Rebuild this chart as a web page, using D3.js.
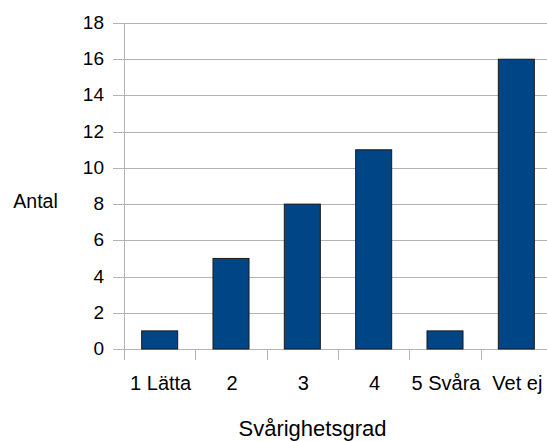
<!DOCTYPE html>
<html>
<head>
<meta charset="utf-8">
<script src="https://cdn.jsdelivr.net/npm/d3@7"></script>
<style>
body { margin: 0; background: #fff; }
text { font-family: "Liberation Sans", Arial, sans-serif; fill: #000; }
</style>
</head>
<body>
<div class="chart"></div>
<script>
// data
var categories = ["1 Lätta", "2", "3", "4", "5 Svåra", "Vet ej"];
var counts = [1, 5, 8, 11, 1, 16];
var yTicks = [0, 2, 4, 6, 8, 10, 12, 14, 16, 18];

var margin = {top: 23, bottom: 92, right: -5, left: 124};
var width = 547 - margin.left - margin.right;
var height = 441 - margin.top - margin.bottom;

var svg = d3.select(".chart")
    .append("svg")
    .attr("width", 547)
    .attr("height", 441)
    .append("g")
    .attr("transform", "translate(" + margin.left + "," + margin.top + ")");

var x = d3.scaleBand()
    .domain(categories)
    .range([0, width])
    .paddingInner(0.495)
    .paddingOuter(0.2475);

var y = d3.scaleLinear()
    .domain([0, 18])
    .range([height, 0]);

// gridlines
svg.selectAll(".grid")
    .data(yTicks)
    .enter().append("line")
    .attr("x1", -11)
    .attr("x2", width)
    .attr("y1", function(d) { return Math.round(y(d)) + 0.5; })
    .attr("y2", function(d) { return Math.round(y(d)) + 0.5; })
    .attr("stroke", "#b3b3b3")
    .attr("stroke-width", 1);

// y axis line
svg.append("line")
    .attr("x1", 0.5).attr("x2", 0.5)
    .attr("y1", 0).attr("y2", height + 11)
    .attr("stroke", "#b3b3b3");

// x category boundary ticks
var step = width / categories.length;
svg.selectAll(".xtick")
    .data(d3.range(1, categories.length + 1))
    .enter().append("line")
    .attr("x1", function(i) { return Math.round(i * step) + 0.5; })
    .attr("x2", function(i) { return Math.round(i * step) + 0.5; })
    .attr("y1", height)
    .attr("y2", height + 11)
    .attr("stroke", "#b3b3b3");

// y tick labels
svg.selectAll(".ylabel")
    .data(yTicks)
    .enter().append("text")
    .attr("x", -20)
    .attr("y", function(d) { return y(d) + 6; })
    .attr("text-anchor", "end")
    .style("font-size", "19px")
    .text(function(d) { return d; });

// bars
svg.selectAll(".bar")
    .data(counts)
    .enter().append("rect")
    .attr("x", function(d, i) { return x(categories[i]); })
    .attr("width", x.bandwidth())
    .attr("y", function(d) { return y(d); })
    .attr("height", function(d) { return height - y(d); })
    .attr("fill", "#004586")
    .attr("stroke", "#1a1a1a")
    .attr("stroke-width", 1);

// x labels
svg.selectAll(".xlabel")
    .data(categories)
    .enter().append("text")
    .attr("x", function(d) { return x(d) + x.bandwidth() / 2 + 1; })
    .attr("y", height + 41)
    .attr("text-anchor", "middle")
    .style("font-size", "20px")
    .text(function(d) { return d; });

// axis titles
svg.append("text")
    .attr("x", 35.5 - margin.left)
    .attr("y", 208 - margin.top)
    .attr("text-anchor", "middle")
    .style("font-size", "19.5px")
    .text("Antal");

svg.append("text")
    .attr("x", 312.5 - margin.left)
    .attr("y", 436 - margin.top)
    .attr("text-anchor", "middle")
    .style("font-size", "22px")
    .text("Svårighetsgrad");
</script>
</body>
</html>
